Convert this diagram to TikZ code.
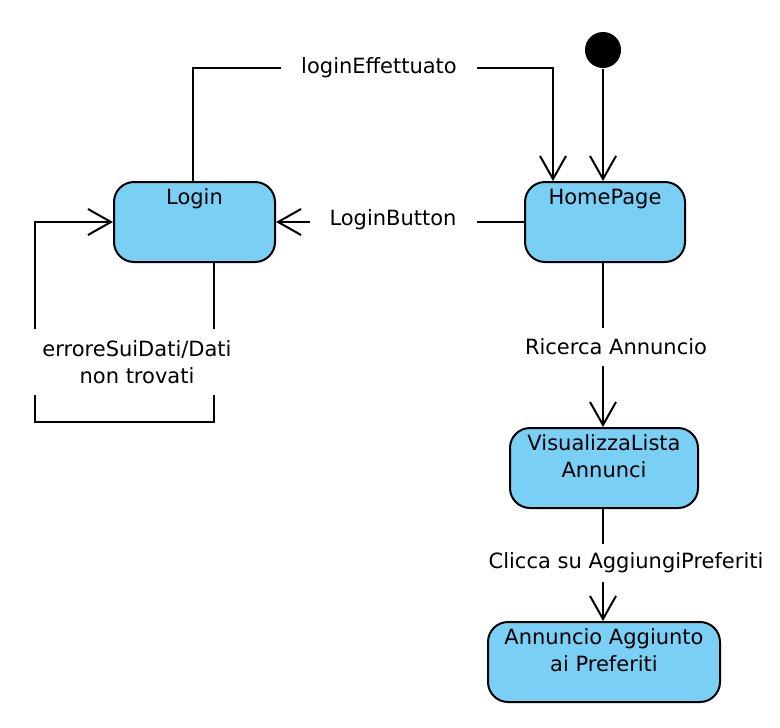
\documentclass[tikz,border=0pt]{standalone}
\usepackage{fontspec}
\setmainfont{DejaVu Sans}
\usetikzlibrary{arrows.meta}
\definecolor{stfill}{RGB}{122,207,245}
\begin{document}
\begin{tikzpicture}[x=1pt,y=-1pt,
  font=\fontsize{21}{26.5}\selectfont,
  line width=2pt,
  state/.style={draw=black, fill=stfill, rounded corners=20pt, line width=2pt, inner sep=0pt},
  arr/.style={-{Straight Barb[length=23pt,width=26pt,line width=2pt]}},
  lbl/.style={fill=white, inner xsep=20pt, inner ysep=4pt, align=center},
  toptext/.style={anchor=north, inner sep=0pt, align=center}]
\useasboundingbox (0,0) rectangle (780,728);
% states
\node[state, minimum width=161pt, minimum height=80pt] (login) at (194.5,222) {};
\node[toptext] (loginT) at ([yshift=-7pt]login.north) {Login};
\node[state, minimum width=160pt, minimum height=80pt] (home) at (605,222) {};
\node[toptext] (homeT) at ([yshift=-7pt]home.north) {HomePage};
\node[state, minimum width=188pt, minimum height=80pt] (vis) at (604,468) {};
\node[toptext] (visT) at ([yshift=-7pt]vis.north) {VisualizzaLista\\Annunci};
\node[state, minimum width=232pt, minimum height=80pt] (agg) at (604,662) {};
\node[toptext] (aggT) at ([yshift=-7pt]agg.north) {Annuncio Aggiunto\\ai Preferiti};
\node[circle, fill=black, minimum size=36pt, inner sep=0pt] (init) at (603,50) {};
% coordinates
\coordinate (le1) at (193,68);
\coordinate (le2) at (553,68);
\coordinate (lp1) at (214,422);
\coordinate (lp2) at (35,422);
\coordinate (lp3) at (35,222);
% connectors
\draw[arr] (login.north -| le1) -- (le1) -- (le2) -- (home.north -| le2);
\draw[arr] (init) -- (home.north -| init);
\draw[arr] (home.west) -- (login.east);
\draw[arr] (login.south -| lp1) -- (lp1) -- (lp2) -- (lp3) -- (login.west);
\draw[arr] (home.south -| init) -- (vis.north -| init);
\draw[arr] (vis.south -| init) -- (agg.north -| init);
% labels
\node[lbl] (l1) at (379,68) {loginEffettuato};
\node[lbl] (l2) at (393,220) {LoginButton};
\node[lbl, inner ysep=12pt, inner xsep=12pt] (l3) at (137,362) {erroreSuiDati/Dati\\non trovati};
\node[lbl, inner xsep=4pt, inner ysep=11pt] (l4) at (616,347) {Ricerca Annuncio};
\node[lbl, inner xsep=4pt, inner ysep=9pt] (l5) at (626,563) {Clicca su AggiungiPreferiti};
\end{tikzpicture}
\end{document}
